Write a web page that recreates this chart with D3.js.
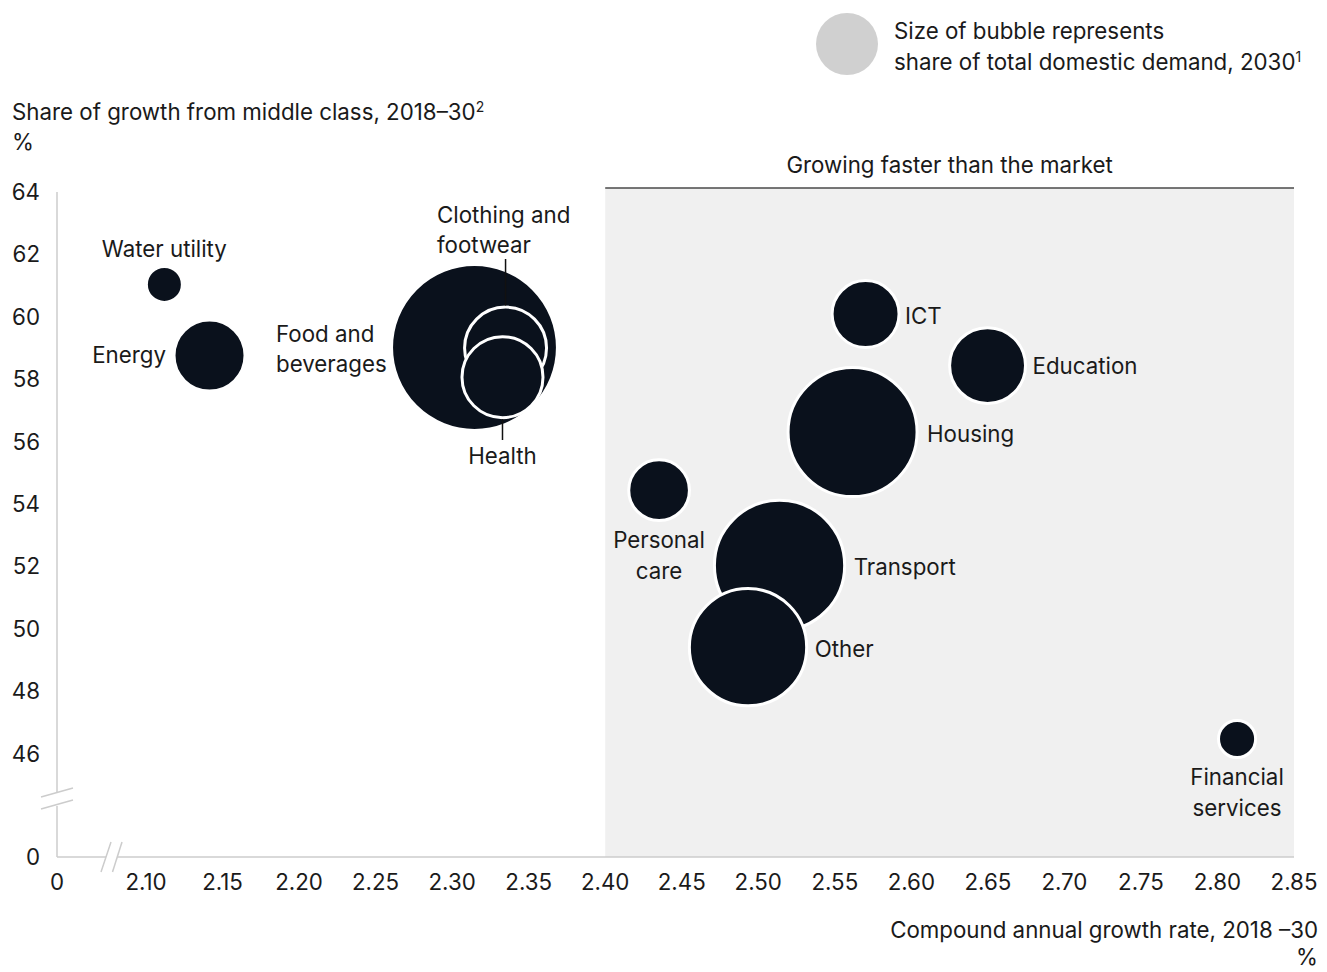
<!DOCTYPE html>
<html>
<head>
<meta charset="utf-8">
<script src="https://cdn.jsdelivr.net/npm/d3@7"></script>
<style>
  html, body { margin: 0; padding: 0; background: #fff; }
  svg { display: block; font-family: Inter, "Liberation Sans", Arial, sans-serif; }
  text { fill: #1a1a1a; }
</style>
</head>
<body>
<svg id="chart" width="1327" height="972"></svg>
<script>
// Sectors of domestic demand
const sectors = ["Water utility", "Energy", "Food and beverages", "Clothing and footwear", "Health",
  "ICT", "Education", "Housing", "Personal care", "Transport", "Other", "Financial services"];
// Compound annual growth rate 2018-30, %
const cagr = [2.112, 2.1415, 2.3146, 2.3349, 2.3329, 2.5701, 2.6498, 2.5616, 2.4352, 2.5139, 2.4933, 2.8128];
// Share of growth from middle class 2018-30, %
const middleShare = [61.04, 58.76, 59.02, 59.0, 58.07, 60.09, 58.44, 56.31, 54.45, 52.04, 49.42, 46.48];
// Share of total domestic demand 2030, % (bubble size)
const demandShare = [0.81, 3.15, 17.2, 4.2, 4.1, 2.8, 3.6, 10.4, 2.3, 10.6, 8.6, 0.86];

const xTicks = [0, 2.10, 2.15, 2.20, 2.25, 2.30, 2.35, 2.40, 2.45, 2.50, 2.55, 2.60, 2.65, 2.70, 2.75, 2.80, 2.85];
const yTicks = [0, 46, 48, 50, 52, 54, 56, 58, 60, 62, 64];
const marketCagr = 2.40;

const svg = d3.select("#chart");
const ink = "#0a111c";
const axisGrey = "#cccccc";
const fontSize = 22.3;
const supSize = 14;

// Broken axes: the gap between 0 and the data range is squeezed
const x = d3.scaleLinear().domain([0, 2.10, 2.85]).range([57, 146, 1294]);
const y = d3.scaleLinear().domain([0, 44, 64]).range([857, 816.4, 192]);
const r = d3.scaleSqrt().domain([0, 16]).range([0, 80]);

// Shaded "growing faster than the market" zone
svg.append("rect")
  .attr("x", x(marketCagr)).attr("y", 188)
  .attr("width", x(2.85) - x(marketCagr)).attr("height", y(0) - 188)
  .attr("fill", "#f0f0f0");
svg.append("line")
  .attr("x1", x(marketCagr)).attr("x2", x(2.85))
  .attr("y1", 188).attr("y2", 188)
  .attr("stroke", "#4a4a4a").attr("stroke-width", 1.5);
svg.append("text")
  .attr("x", (x(marketCagr) + x(2.85)) / 2).attr("y", 165)
  .attr("dy", "0.35em")
  .attr("text-anchor", "middle").attr("font-size", fontSize)
  .text("Growing faster than the market");

// Axis lines with break marks
const axes = svg.append("g").attr("stroke", axisGrey).attr("stroke-width", 1.5).attr("fill", "none");
axes.append("line").attr("x1", 57).attr("x2", 57).attr("y1", y(64)).attr("y2", 792);
axes.append("line").attr("x1", 57).attr("x2", 57).attr("y1", 806).attr("y2", y(0));
axes.append("line").attr("x1", 41).attr("x2", 73).attr("y1", 797).attr("y2", 788);
axes.append("line").attr("x1", 41).attr("x2", 73).attr("y1", 809).attr("y2", 800);
axes.append("line").attr("x1", 57).attr("x2", 106).attr("y1", y(0)).attr("y2", y(0));
axes.append("line").attr("x1", 117).attr("x2", x(2.85)).attr("y1", y(0)).attr("y2", y(0));
axes.append("line").attr("x1", 101).attr("x2", 111).attr("y1", 872).attr("y2", 842);
axes.append("line").attr("x1", 112.5).attr("x2", 122).attr("y1", 872).attr("y2", 842);

// Tick labels
svg.append("g").selectAll("text").data(xTicks).join("text")
  .attr("x", d => x(d)).attr("y", 882).attr("dy", "0.35em")
  .attr("text-anchor", "middle").attr("font-size", fontSize)
  .text(d => d === 0 ? "0" : d3.format(".2f")(d));
svg.append("g").selectAll("text").data(yTicks).join("text")
  .attr("x", 40).attr("y", d => y(d))
  .attr("dy", "0.35em")
  .attr("text-anchor", "end").attr("font-size", fontSize)
  .text(d => d);

// Axis titles
const yTitle = svg.append("text").attr("x", 12).attr("y", 112).attr("dy", "0.35em").attr("font-size", fontSize);
yTitle.append("tspan").text("Share of growth from middle class, 2018–30");
yTitle.append("tspan").attr("font-size", supSize).attr("dy", -8).text("2");
svg.append("text").attr("x", 12).attr("y", 142).attr("dy", "0.35em").attr("font-size", fontSize).text("%");

svg.append("text").attr("x", 1318).attr("y", 930).attr("dy", "0.35em").attr("text-anchor", "end")
  .attr("font-size", fontSize).text("Compound annual growth rate, 2018 –30");
svg.append("text").attr("x", 1318).attr("y", 957).attr("dy", "0.35em").attr("text-anchor", "end")
  .attr("font-size", fontSize).text("%");

// Size legend
svg.append("circle").attr("cx", 847).attr("cy", 44).attr("r", 31).attr("fill", "#d0d0d0");
svg.append("text").attr("x", 894).attr("y", 31).attr("dy", "0.35em").attr("font-size", fontSize).text("Size of bubble represents");
const leg2 = svg.append("text").attr("x", 894).attr("y", 62).attr("dy", "0.35em").attr("font-size", fontSize);
leg2.append("tspan").text("share of total domestic demand, 2030");
leg2.append("tspan").attr("font-size", supSize).attr("dy", -8).text("1");

// Bubbles
const data = sectors.map((name, i) => ({ name, cx: cagr[i], cy: middleShare[i], size: demandShare[i] }));
svg.append("g").selectAll("circle").data(data).join("circle")
  .attr("cx", d => x(d.cx)).attr("cy", d => y(d.cy)).attr("r", d => r(d.size))
  .attr("fill", ink).attr("stroke", "#fff").attr("stroke-width", 3);

// Bubble labels, placed relative to their bubble
const byName = Object.fromEntries(data.map(d => [d.name, d]));
const labelSpec = [
  { name: "Water utility", anchor: "middle", pos: d => [x(d.cx), y(d.cy) - r(d.size) - 17], lines: ["Water utility"] },
  { name: "Energy", anchor: "end", pos: d => [x(d.cx) - r(d.size) - 8, y(d.cy)], lines: ["Energy"] },
  { name: "Food and beverages", anchor: "start", pos: d => [276, y(d.cy) - 13.5], lines: ["Food and", "beverages"] },
  { name: "Clothing and footwear", anchor: "start", pos: d => [437, 215], lines: ["Clothing and", "footwear"] },
  { name: "Health", anchor: "middle", pos: d => [x(d.cx), y(d.cy) + r(d.size) + 39], lines: ["Health"] },
  { name: "ICT", anchor: "start", pos: d => [x(d.cx) + r(d.size) + 6, y(d.cy) + 2], lines: ["ICT"] },
  { name: "Education", anchor: "start", pos: d => [x(d.cx) + r(d.size) + 7, y(d.cy) + 1], lines: ["Education"] },
  { name: "Housing", anchor: "start", pos: d => [x(d.cx) + r(d.size) + 10, y(d.cy) + 2], lines: ["Housing"] },
  { name: "Personal care", anchor: "middle", pos: d => [x(d.cx), y(d.cy) + r(d.size) + 20], lines: ["Personal", "care"] },
  { name: "Transport", anchor: "start", pos: d => [x(d.cx) + r(d.size) + 9, y(d.cy) + 2], lines: ["Transport"] },
  { name: "Other", anchor: "start", pos: d => [x(d.cx) + r(d.size) + 8, y(d.cy) + 2], lines: ["Other"] },
  { name: "Financial services", anchor: "middle", pos: d => [x(d.cx), y(d.cy) + r(d.size) + 20], lines: ["Financial", "services"] }
];
const labels = svg.append("g").attr("font-size", fontSize);
labelSpec.forEach(s => {
  const d = byName[s.name];
  const [lx, ly] = s.pos(d);
  const t = labels.append("text").attr("x", lx).attr("y", ly).attr("text-anchor", s.anchor);
  s.lines.forEach((ln, i) => {
    t.append("tspan").attr("x", lx).attr("y", ly + i * 30.5).attr("dy", "0.35em").text(ln);
  });
});

// Leader lines for the overlapping clothing and health bubbles
const cloth = byName["Clothing and footwear"], health = byName["Health"];
svg.append("line").attr("x1", x(cloth.cx)).attr("x2", x(cloth.cx))
  .attr("y1", 259).attr("y2", y(cloth.cy) - r(cloth.size) - 1.5)
  .attr("stroke", "#111").attr("stroke-width", 1.5);
svg.append("line").attr("x1", x(health.cx)).attr("x2", x(health.cx))
  .attr("y1", y(health.cy) + r(health.size) + 1.5).attr("y2", 440)
  .attr("stroke", "#111").attr("stroke-width", 1.5);
</script>
</body>
</html>
